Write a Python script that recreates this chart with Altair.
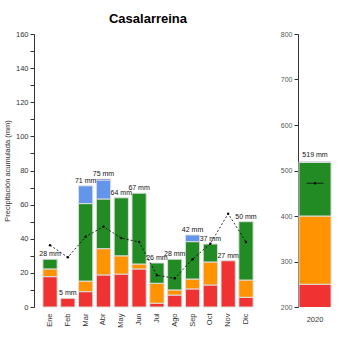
import altair as alt
import pandas as pd

months = ["Ene", "Feb", "Mar", "Abr", "May", "Jun", "Jul", "Ago", "Sep", "Oct", "Nov", "Dic"]
cat_names = ["c1", "c2", "c3", "c4", "c5"]
cat_colors = ["#f03232", "#ff9300", "#238b23", "#6495ed", "#0000cd"]

red = [17.8, 5.1, 9.0, 18.8, 19.3, 22.3, 2.2, 7.0, 10.6, 12.9, 27.1, 5.7]
orange = [4.5, 0, 6.2, 15.4, 10.7, 2.9, 11.7, 3.0, 5.8, 13.5, 0, 10.1]
green = [5.7, 0, 45.4, 29.1, 34.0, 41.5, 11.9, 18.0, 21.9, 10.5, 0, 34.2]
lightblue = [0, 0, 10.4, 11.1, 0, 0, 0, 0, 3.9, 0, 0, 0]
darkblue = [0, 0, 0, 0.6, 0, 0, 0, 0, 0, 0, 0, 0]
labels = ["28 mm", "5 mm", "71 mm", "75 mm", "64 mm", "67 mm", "26 mm", "28 mm", "42 mm", "37 mm", "27 mm", "50 mm"]
avg_month = [36.2, 29.1, 41.2, 47.1, 40.4, 38.1, 18.6, 16.8, 28.0, 37.1, 54.7, 38.1]
y_ticks = [0, 10, 20, 30, 40, 50, 60, 70, 80, 90, 100, 110, 120, 130, 140, 150, 160]

year = ["2020"]
year_vals = [250, 150, 118, 1.5, 0]
year_label = ["519 mm"]
year_avg = [472]
yy_ticks = [200, 300, 400, 500, 600, 700, 800]

FONT = "Liberation Sans"

rows = []
series = [red, orange, green, lightblue, darkblue]
for ci, (cn, vals) in enumerate(zip(cat_names, series)):
    for m, v in zip(months, vals):
        if v > 0:
            rows.append({"month": m, "cat": cn, "ord": ci, "value": v})
df = pd.DataFrame(rows)
tot = df.groupby("month")["value"].sum()
df_lab = pd.DataFrame({"month": months, "total": [tot[m] for m in months], "label": labels, "avg": avg_month})

yrows = [{"year": year[0], "cat": cn, "ord": ci, "value": v} for ci, (cn, v) in enumerate(zip(cat_names, year_vals)) if v > 0]
dfy = pd.DataFrame(yrows)
dfy_lab = pd.DataFrame({"year": year, "total": [sum(year_vals)], "label": year_label, "avg": year_avg})

color = alt.Color("cat:N", scale=alt.Scale(domain=cat_names, range=cat_colors), legend=None)

xm_scale = alt.Scale(paddingInner=0.2, paddingOuter=0.5)
xm_axis = alt.Axis(title=None, labelAngle=270, domain=False, ticks=False, labelPadding=6,
                   labelFontSize=7.5, labelColor="#333", labelFont=FONT)
ym_axis = alt.Axis(values=y_ticks, labelExpr="(datum.value % 20 == 0) ? datum.label : ''",
                   labelOverlap=False,
                   title="Precipitación acumulada (mm)", titleFontSize=7.5, titleFontWeight="normal",
                   titleFont=FONT, titleColor="#333", tickSize=4, labelFontSize=7.5, labelFont=FONT,
                   labelColor="#333", grid=False, domainColor="#333", tickColor="#333", labelPadding=2, titlePadding=4)
yscale = alt.Scale(domain=[0, 160], nice=False)


def xm(field="month:N"):
    return alt.X(field, sort=months, scale=xm_scale, axis=xm_axis)


def ym(field):
    return alt.Y(field, scale=yscale, axis=ym_axis)


bars = alt.Chart(df).mark_bar(stroke="#dddddd", strokeWidth=1).encode(
    x=xm(),
    y=alt.Y("value:Q", stack="zero", scale=yscale, axis=ym_axis),
    color=color,
    order=alt.Order("ord:Q", sort="ascending"),
)
texts = alt.Chart(df_lab).mark_text(dy=-5, fontSize=7, font=FONT, fill="#111").encode(
    x=xm(), y=ym("total:Q"), text="label:N")
line = alt.Chart(df_lab).mark_line(color="black", strokeDash=[2, 2], strokeWidth=0.8).encode(
    x=xm(), y=ym("avg:Q"))
pts = alt.Chart(df_lab).mark_circle(color="black", size=6, opacity=1).encode(
    x=xm(), y=ym("avg:Q"))

left = alt.layer(bars, texts, line, pts).properties(
    width=228, height=273,
    title=alt.TitleParams("Casalarreina", font=FONT, fontSize=13, fontWeight="bold", anchor="middle", offset=4, color="black"))

xy_scale = alt.Scale(paddingInner=0, paddingOuter=0.03)
xy_axis = alt.Axis(title=None, labelAngle=0, domain=False, ticks=False, labelPadding=8,
                   labelFontSize=7.5, labelColor="#333", labelFont=FONT)
yy_axis = alt.Axis(values=yy_ticks, title=None, tickSize=4, labelFontSize=7,
                   labelOverlap=False,
                   labelFont=FONT, labelColor="#555", grid=False, domainColor="#333", tickColor="#333", labelPadding=2)
yyscale = alt.Scale(domain=[200, 800], nice=False, zero=False)


def xy():
    return alt.X("year:N", scale=xy_scale, axis=xy_axis)


def yy(field):
    return alt.Y(field, scale=yyscale, axis=yy_axis)


ybars = alt.Chart(dfy).mark_bar(stroke="#dddddd", strokeWidth=1, clip=True).encode(
    x=xy(),
    y=alt.Y("value:Q", stack="zero", scale=yyscale, axis=yy_axis),
    color=color,
    order=alt.Order("ord:Q", sort="ascending"),
)
ytexts = alt.Chart(dfy_lab).mark_text(dy=-7, fontSize=7, font=FONT, fill="#111").encode(
    x=xy(), y=yy("total:Q"), text="label:N")
yline = alt.Chart(dfy_lab).mark_tick(color="black", strokeDash=[2, 2], strokeWidth=0.8, size=17, orient="horizontal").encode(
    x=xy(), y=yy("avg:Q"))
ypts = alt.Chart(dfy_lab).mark_circle(color="black", size=6, opacity=1).encode(
    x=xy(), y=yy("avg:Q"))

right = alt.layer(ybars, ytexts, yline, ypts).properties(width=34, height=273)

chart = alt.hconcat(left, right, spacing=18).resolve_scale(y="independent", x="independent", color="shared").configure_view(
    stroke=None).properties(padding={"left": 3, "top": 13, "right": 5, "bottom": 5})

chart.save("out.html", embed_options={"renderer": "svg", "actions": False})
